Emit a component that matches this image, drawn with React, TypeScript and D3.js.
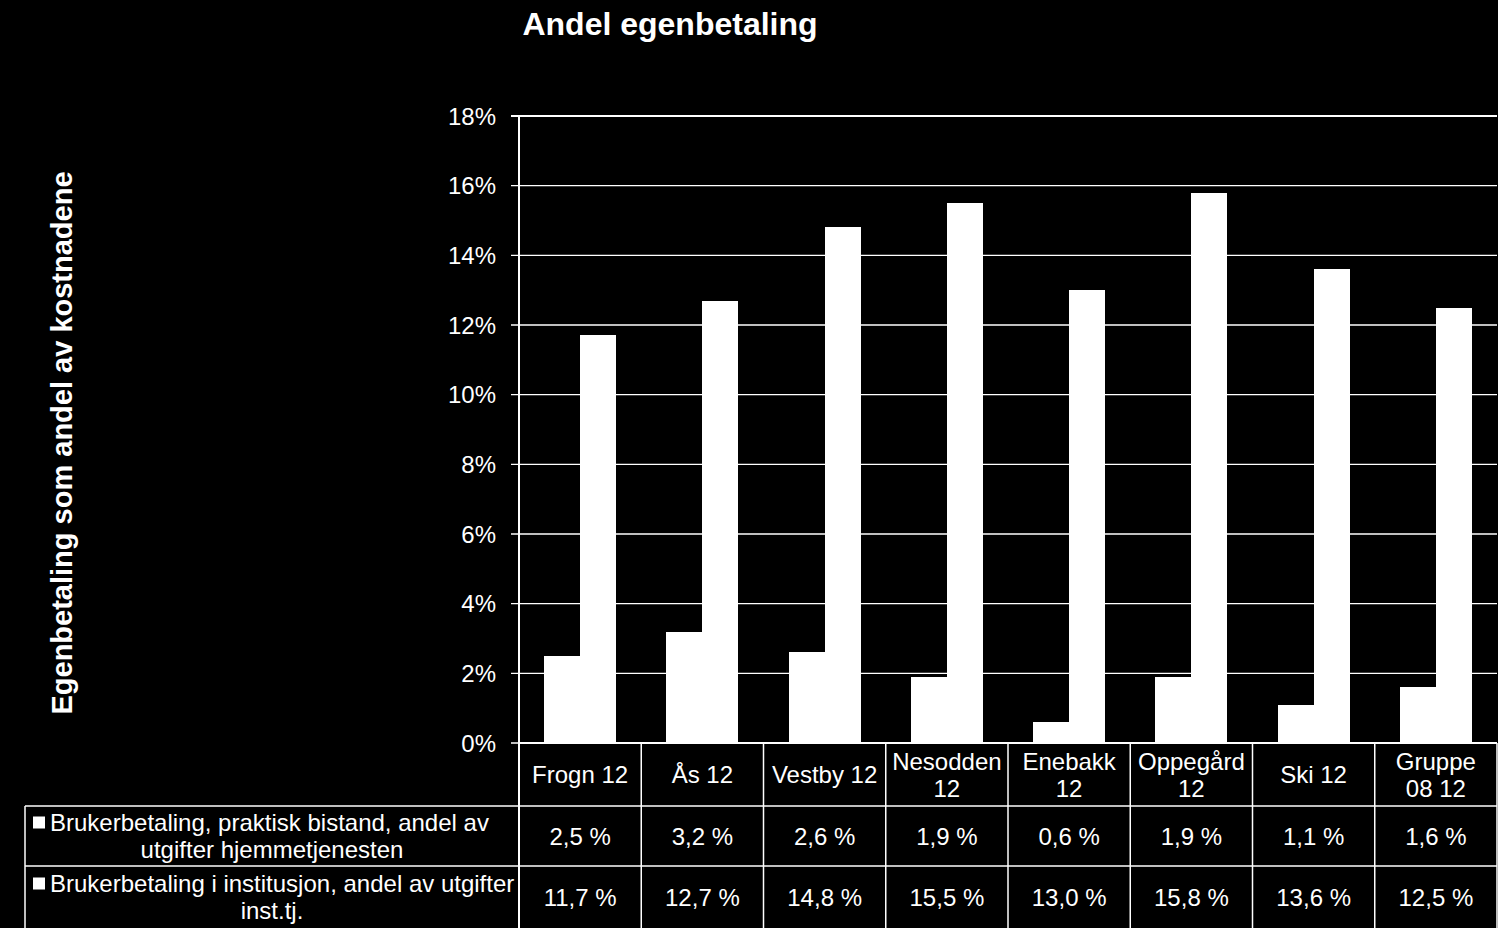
import React, { useEffect, useRef } from "react";
import * as d3 from "d3";

const categories: string[][] = [
  ["Frogn 12"],
  ["Ås 12"],
  ["Vestby 12"],
  ["Nesodden", "12"],
  ["Enebakk", "12"],
  ["Oppegård", "12"],
  ["Ski 12"],
  ["Gruppe", "08 12"],
];
const seriesNames: string[][] = [
  ["Brukerbetaling, praktisk bistand, andel av", "utgifter hjemmetjenesten"],
  ["Brukerbetaling i institusjon, andel av utgifter", "inst.tj."],
];
const praktiskBistand = [2.5, 3.2, 2.6, 1.9, 0.6, 1.9, 1.1, 1.6];
const institusjon = [11.7, 12.7, 14.8, 15.5, 13.0, 15.8, 13.6, 12.5];
const yTicks = [0, 2, 4, 6, 8, 10, 12, 14, 16, 18];
const title = "Andel egenbetaling";
const yTitle = "Egenbetaling som andel av kostnadene";

const W = 1498;
const H = 928;
const FONT = "'Liberation Sans', Arial, sans-serif";

export default function App() {
  const ref = useRef<SVGSVGElement | null>(null);

  useEffect(() => {
    const svg = d3.select(ref.current);
    svg.selectAll("*").remove();
    svg.append("rect").attr("width", W).attr("height", H).attr("fill", "#000");

    const left = 519, right = 1497, top = 116, bottom = 743;
    const tableLeft = 25;
    const rowH = [743, 806, 866, 928];

    const x0 = d3.scaleBand<number>().domain(d3.range(categories.length)).range([left, right]).padding(0);
    const bw = x0.bandwidth();
    const x1 = d3.scaleBand<number>().domain([0, 1]).range([bw * 0.205, bw * 0.795]).padding(0);
    const y = d3.scaleLinear().domain([0, 18]).range([bottom, top]);

    // gridlines
    svg.append("g").selectAll("line").data(yTicks).join("line")
      .attr("x1", left - 8).attr("x2", right)
      .attr("y1", (d) => y(d)).attr("y2", (d) => y(d))
      .attr("stroke", "#fff").attr("stroke-width", (d) => (d === 18 ? 2 : 1.3));

    // tick labels
    svg.append("g").selectAll("text").data(yTicks).join("text")
      .attr("x", 496).attr("y", (d) => y(d)).attr("dy", "0.36em")
      .attr("text-anchor", "end").attr("fill", "#fff")
      .attr("font-family", FONT).attr("font-size", 24)
      .text((d) => `${d}%`);

    // bars
    const series = [praktiskBistand, institusjon];
    series.forEach((vals, si) => {
      svg.append("g").attr("shape-rendering", "crispEdges").selectAll("rect").data(vals).join("rect")
        .attr("x", (_, i) => Math.round((x0(i) as number) + (x1(si) as number)))
        .attr("width", (_, i) =>
          Math.round((x0(i) as number) + (x1(si) as number) + x1.bandwidth()) -
          Math.round((x0(i) as number) + (x1(si) as number)))
        .attr("y", (d) => y(d))
        .attr("height", (d) => y(0) - y(d))
        .attr("fill", "#fff");
    });

    // y axis line
    svg.append("line").attr("x1", left).attr("x2", left).attr("y1", top).attr("y2", H)
      .attr("stroke", "#fff").attr("stroke-width", 2);

    // table lines
    const tl = svg.append("g").attr("stroke", "#fff").attr("stroke-width", 1.5);
    tl.append("line").attr("x1", left).attr("x2", right).attr("y1", bottom).attr("y2", bottom).attr("stroke-width", 2);
    [rowH[1], rowH[2]].forEach((yy) =>
      tl.append("line").attr("x1", tableLeft).attr("x2", right).attr("y1", yy).attr("y2", yy));
    tl.append("line").attr("x1", tableLeft).attr("x2", tableLeft).attr("y1", rowH[1]).attr("y2", H);
    d3.range(categories.length + 1).forEach((i) => {
      const xx = i < categories.length ? (x0(i) as number) : right;
      tl.append("line").attr("x1", xx).attr("x2", xx).attr("y1", bottom).attr("y2", H);
    });

    const txt = svg.append("g").attr("fill", "#fff").attr("font-family", FONT).attr("font-size", 24)
      .attr("text-anchor", "middle");

    // category header
    categories.forEach((lines, i) => {
      const cx = (x0(i) as number) + bw / 2;
      const cy = (rowH[0] + rowH[1]) / 2;
      const lh = 27;
      lines.forEach((l, j) => {
        txt.append("text").attr("x", cx)
          .attr("y", cy + (j - (lines.length - 1) / 2) * lh).attr("dy", "0.36em").text(l);
      });
    });

    // value rows
    const fmt = (v: number) => `${v.toFixed(1).replace(".", ",")} %`;
    series.forEach((vals, si) => {
      const cy = (rowH[si + 1] + rowH[si + 2]) / 2;
      vals.forEach((v, i) => {
        txt.append("text").attr("x", (x0(i) as number) + bw / 2).attr("y", cy).attr("dy", "0.36em").text(fmt(v));
      });
      // legend cell
      const cellCx = (tableLeft + left) / 2;
      const lh = 27;
      seriesNames[si].forEach((l, j) => {
        const ty = cy + (j - 0.5) * lh;
        if (j === 0) {
          svg.append("rect").attr("x", 33).attr("y", ty - 6).attr("width", 12).attr("height", 12).attr("fill", "#fff");
          txt.append("text").attr("x", 50).attr("text-anchor", "start").attr("y", ty).attr("dy", "0.36em").text(l);
        } else {
          txt.append("text").attr("x", cellCx).attr("y", ty).attr("dy", "0.36em").text(l);
        }
      });
    });

    // title
    svg.append("text").attr("x", 670).attr("y", 35).attr("text-anchor", "middle")
      .attr("fill", "#fff").attr("font-family", FONT).attr("font-size", 32).attr("font-weight", "bold")
      .text(title);

    // y title
    svg.append("text").attr("transform", `translate(72, 443) rotate(-90)`)
      .attr("text-anchor", "middle").attr("fill", "#fff").attr("font-family", FONT)
      .attr("font-size", 29).attr("font-weight", "bold").text(yTitle);
  }, []);

  return (
    <div style={{ position: "absolute", left: 0, top: 0, width: W, height: H, background: "#000" }}>
      <svg ref={ref} width={W} height={H} style={{ display: "block" }} />
    </div>
  );
}
